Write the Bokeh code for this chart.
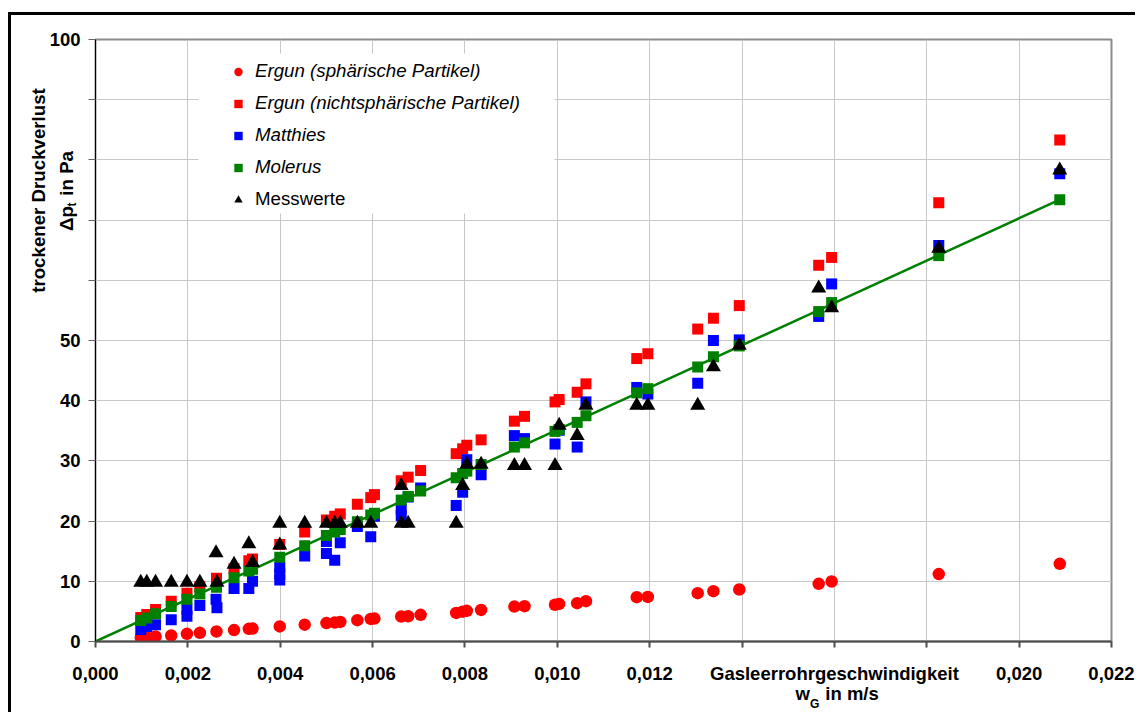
import math
from bokeh.plotting import figure
from bokeh.models import (Range1d, FixedTicker, CustomJSTickFormatter, Legend,
                          LegendItem, Label, BoxAnnotation)
from bokeh.embed import file_html
from bokeh.resources import INLINE

# ---------------- data ----------------
w_calc = [0.00098, 0.00111, 0.00130, 0.00164, 0.00198, 0.00226, 0.00262, 0.00300,
          0.00332, 0.00340, 0.00399, 0.00453, 0.00500, 0.00518, 0.00530, 0.00567,
          0.00596, 0.00604, 0.00662, 0.00677, 0.00704, 0.00781, 0.00795, 0.00804,
          0.00835, 0.00907, 0.00929, 0.00995, 0.01004, 0.01043, 0.01062, 0.01172,
          0.01196, 0.01304, 0.01338, 0.01394, 0.01566, 0.01594, 0.01826, 0.02088]
ergun_sph = [0.65, 0.7, 0.83, 1.0, 1.27, 1.44, 1.66, 1.9, 2.1, 2.15, 2.5, 2.8, 3.06,
             3.15, 3.25, 3.55, 3.75, 3.8, 4.15, 4.2, 4.43, 4.75, 4.95, 5.1, 5.25, 5.8,
             5.87, 6.1, 6.25, 6.37, 6.7, 7.36, 7.4, 8.03, 8.36, 8.64, 9.58, 9.97, 11.2, 12.9]
ergun_nsph = [4.0, 4.5, 5.3, 6.7, 8.0, 9.1, 10.5, 12.1, 13.4, 13.7, 16.1, 18.2, 20.2,
              20.8, 21.2, 22.8, 23.9, 24.4, 26.7, 27.3, 28.4, 31.2, 32.0, 32.6, 33.5,
              36.6, 37.4, 39.8, 40.2, 41.4, 42.8, 47.0, 47.8, 51.9, 53.7, 55.8, 62.5,
              63.8, 72.9, 83.3]
molerus = [3.5, 3.9, 4.6, 5.8, 7.0, 7.9, 9.0, 10.6, 11.7, 12.0, 14.0, 15.9, 17.6, 18.2,
           18.6, 19.9, 21.0, 21.3, 23.5, 24.1, 25.0, 27.2, 27.9, 28.3, 29.4, 32.3, 33.0,
           34.9, 35.2, 36.4, 37.5, 41.3, 42.0, 45.6, 47.3, 49.1, 54.8, 56.3, 64.1, 73.4]

w_matthies = [0.00098, 0.00111, 0.00130, 0.00164, 0.00198, 0.00198, 0.00226, 0.00261,
              0.00263, 0.00300, 0.00332, 0.00340, 0.00399, 0.00399, 0.00399, 0.00453,
              0.00500, 0.00500, 0.00518, 0.00530, 0.00567, 0.00596, 0.00604, 0.00662,
              0.00662, 0.00677, 0.00704, 0.00781, 0.00795, 0.00804, 0.00835, 0.00907,
              0.00929, 0.00995, 0.01004, 0.01043, 0.01062, 0.01172, 0.01196, 0.01304,
              0.01338, 0.01394, 0.01566, 0.01594, 0.01826, 0.02088]
matthies = [2.0, 2.5, 2.8, 3.6, 5.4, 4.2, 6.0, 7.0, 5.6, 8.8, 8.8, 10.0, 12.3, 11.2, 10.2,
            14.2, 16.6, 14.6, 13.5, 16.4, 19.1, 17.4, 20.8, 22.0, 20.9, 24.0, 25.5, 22.6,
            24.8, 30.2, 27.7, 34.2, 33.7, 32.8, 35.1, 32.3, 39.8, 42.2, 41.1, 42.9, 50.0,
            50.1, 54.0, 59.4, 65.8, 77.7]

w_mess = [0.00098, 0.00111, 0.00130, 0.00164, 0.00198, 0.00226, 0.00261, 0.00263,
          0.00300, 0.00332, 0.00340, 0.00399, 0.00399, 0.00453, 0.00500, 0.00518,
          0.00530, 0.00567, 0.00596, 0.00662, 0.00662, 0.00677, 0.00781, 0.00795,
          0.00804, 0.00835, 0.00907, 0.00929, 0.00995, 0.01004, 0.01043, 0.01062,
          0.01172, 0.01196, 0.01304, 0.01338, 0.01394, 0.01566, 0.01594, 0.01826, 0.02088]
messwerte = [9.8, 9.8, 9.8, 9.8, 9.8, 9.8, 14.7, 9.8, 12.8, 16.2, 13.1, 19.6, 16.0, 19.6,
             19.6, 19.6, 19.6, 19.6, 19.6, 25.9, 19.6, 19.6, 19.6, 25.9, 29.4, 29.4, 29.2,
             29.2, 29.2, 35.9, 34.2, 39.2, 39.2, 39.2, 39.2, 45.6, 49.2, 58.7, 55.4, 65.3, 78.3]

trend_w = [0.0, 0.02088]
trend_dp = [0.0, 73.4]

x_ticks = [0.000, 0.002, 0.004, 0.006, 0.008, 0.010, 0.012, 0.014, 0.016, 0.018, 0.020, 0.022]
y_ticks = [0, 10, 20, 30, 40, 50, 60, 70, 80, 90, 100]

series_labels = ["Ergun (sphärische Partikel)", "Ergun (nichtsphärische Partikel)",
                 "Matthies", "Molerus", "Messwerte"]
x_title = "Gasleerrohrgeschwindigkeit"
NB = "\u00a0"

FONT = "Liberation Sans"
RED, BLUE, GREEN = "#ff0000", "#0000ff", "#008000"

# ---------------- figure ----------------
W, H = 1127, 700
p = figure(width=W, height=H, x_range=Range1d(0, 0.022), y_range=Range1d(0, 100),
           output_backend="svg", toolbar_location=None,
           min_border_left=83, min_border_right=27, min_border_top=24, min_border_bottom=74)
p.margin = (12, 0, 0, 8)
p.styles = {"border-left": "3px solid black", "border-top": "3px solid black"}
p.background_fill_color = "white"
p.border_fill_color = "white"
p.outline_line_color = "#8c8c8c"
p.outline_line_width = 2

p.xaxis.ticker = FixedTicker(ticks=x_ticks)
p.yaxis.ticker = FixedTicker(ticks=y_ticks)
p.xgrid.ticker = FixedTicker(ticks=x_ticks)
p.ygrid.ticker = FixedTicker(ticks=y_ticks)
p.xaxis.formatter = CustomJSTickFormatter(args=dict(title=x_title), code="""
if (Math.abs(tick - 0.016) < 1e-6) { return title; }
if (tick > 0.0135 && tick < 0.0185) { return ''; }
return tick.toFixed(3).replace('.', ',');
""")
p.yaxis.formatter = CustomJSTickFormatter(code="""
if (tick > 55 && tick < 95) { return ''; }
return tick.toFixed(0);
""")
for ax in (p.xaxis, p.yaxis):
    ax.major_label_text_font = FONT
    ax.major_label_text_font_style = "bold"
    ax.major_label_text_font_size = "18.5px"
    ax.major_label_text_color = "black"
    ax.minor_tick_line_color = None
    ax.major_tick_in = 0
p.xaxis.axis_line_color = "#4d4d4d"
p.xaxis.axis_line_width = 2
p.xaxis.major_tick_line_color = "#4d4d4d"
p.xaxis.major_tick_line_width = 2
p.xaxis.major_tick_out = 6
p.xaxis.major_label_standoff = 15
p.yaxis.axis_line_color = "black"
p.yaxis.axis_line_width = 1
p.yaxis.major_tick_line_color = "#666666"
p.yaxis.major_tick_line_width = 1
p.yaxis.major_tick_out = 7
p.yaxis.major_label_standoff = 8

for g in (p.xgrid, p.ygrid):
    g.grid_line_color = "#c8c8c8"
    g.grid_line_width = 1

# ---------------- glyphs ----------------
r1 = p.scatter(w_calc, ergun_sph, marker="circle", size=12.5, fill_color=RED, line_color=None)
r2 = p.scatter(w_calc, ergun_nsph, marker="square", size=11, fill_color=RED, line_color=None)
r3 = p.scatter(w_matthies, matthies, marker="square", size=11, fill_color=BLUE, line_color=None)
r4 = p.scatter(w_calc, molerus, marker="square", size=11, fill_color=GREEN, line_color=None)
p.line(trend_w, trend_dp, line_color=GREEN, line_width=2.5)
r5 = p.scatter(w_mess, messwerte, marker="triangle", size=15, fill_color="black", line_color=None)

# ---------------- legend ----------------
p.add_layout(BoxAnnotation(left=103, right=459, top=588, bottom=428,
                           left_units="screen", right_units="screen",
                           top_units="screen", bottom_units="screen",
                           fill_color="white", fill_alpha=1.0, line_color=None))
common = dict(padding=7, spacing=10, glyph_width=24, glyph_height=21, label_height=21,
              label_standoff=5, label_width=293, margin=0, border_line_color=None,
              background_fill_color="white", background_fill_alpha=1.0,
              label_text_font=FONT, label_text_font_size="18.7px", label_text_color="black")
leg1 = Legend(items=[LegendItem(label=series_labels[0], renderers=[r1]),
                     LegendItem(label=series_labels[1], renderers=[r2]),
                     LegendItem(label=series_labels[2], renderers=[r3]),
                     LegendItem(label=series_labels[3], renderers=[r4])],
              location=(131, 463), label_text_font_style="italic", **common)
leg2 = Legend(items=[LegendItem(label=series_labels[4], renderers=[r5])],
              location=(131, 431), label_text_font_style="normal", **common)
p.add_layout(leg1)
p.add_layout(leg2)


# ---------------- axis titles: labels in side panels (not clipped) ----------------
def lab(text, side, x, y, size="18.7px", align="left", angle=0.0):
    p.add_layout(Label(x=x, y=y, x_units="screen", y_units="screen",
                       text=text, text_font=FONT, text_font_style="bold",
                       text_font_size=size, text_align=align, text_baseline="alphabetic",
                       angle=angle, text_color="black"), side)


# y title: rotated, two lines, subscript t
lab("t", "left", 39, 435, size="12px", angle=math.pi / 2)
lab("trockener Druckverlust", "left", 27.3, 451, align="center", angle=math.pi / 2)
lab("Δp" + NB + NB + "in Pa", "right", -1045, 410.6, angle=math.pi / 2)
# x title second line with subscript G
lab("w" + NB + NB + NB + "in m/s", "below", 700, 14, size="18.5px")
lab("G", "above", 714.4, -664, size="12px")

open("out.html", "w").write(file_html(p, INLINE))
